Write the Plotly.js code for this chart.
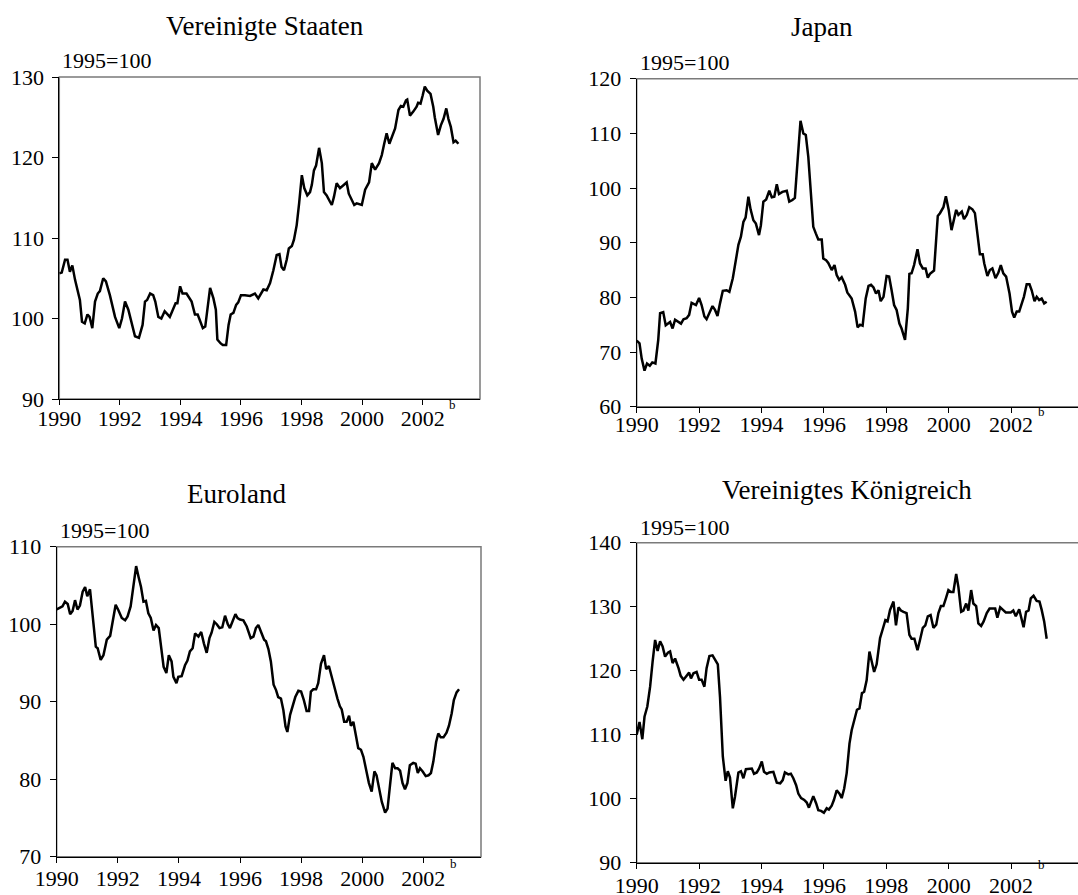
<!DOCTYPE html>
<html>
<head>
<meta charset="utf-8">
<script src="https://cdn.plot.ly/plotly-3.0.1.min.js"></script>
<style>
html,body{margin:0;padding:0;overflow:hidden;background:#fff;width:1078px;height:895px;}
#chart{width:1090px;height:895px;}
</style>
</head>
<body>
<div id="chart"></div>
<script>
// ---- Data (decimal years, index 1995=100) ----
const usX = [1990.0,1990.08,1990.19,1990.27,1990.35,1990.43,1990.52,1990.68,1990.75,1990.84,1990.93,1991.0,1991.09,1991.18,1991.27,1991.34,1991.45,1991.54,1991.67,1991.84,1991.98,1992.07,1992.17,1992.28,1992.5,1992.63,1992.75,1992.83,1992.9,1993.0,1993.1,1993.17,1993.27,1993.37,1993.48,1993.65,1993.84,1993.9,1993.99,1994.07,1994.2,1994.37,1994.48,1994.57,1994.74,1994.82,1994.98,1995.09,1995.17,1995.22,1995.33,1995.4,1995.51,1995.59,1995.66,1995.75,1995.84,1995.91,1996.0,1996.13,1996.3,1996.46,1996.57,1996.74,1996.85,1996.96,1997.07,1997.18,1997.27,1997.34,1997.42,1997.51,1997.58,1997.68,1997.75,1997.84,1997.92,1998.01,1998.09,1998.19,1998.28,1998.34,1998.41,1998.48,1998.58,1998.67,1998.74,1998.83,1998.94,1999.0,1999.07,1999.16,1999.27,1999.38,1999.49,1999.56,1999.65,1999.74,1999.82,1999.99,2000.1,2000.23,2000.32,2000.43,2000.56,2000.65,2000.73,2000.81,2000.9,2000.98,2001.09,2001.2,2001.28,2001.36,2001.45,2001.49,2001.58,2001.69,2001.8,2001.85,2001.93,2002.0,2002.07,2002.15,2002.26,2002.35,2002.4,2002.51,2002.6,2002.69,2002.78,2002.85,2002.93,2003.02,2003.09,2003.18];
const usY = [105.6,105.7,107.3,107.3,105.8,106.6,104.8,102.3,99.6,99.4,100.5,100.2,98.8,102.1,103.1,103.4,105.0,104.6,102.9,100.2,98.8,100.0,102.1,101.1,97.8,97.6,99.2,102.1,102.3,103.1,102.9,102.1,100.2,100.0,100.9,100.2,101.9,101.9,104.0,103.1,103.1,102.1,100.5,100.5,98.8,99.0,103.8,102.5,101.1,97.4,96.9,96.7,96.7,99.2,100.5,100.7,101.7,102.0,102.9,102.9,102.8,103.1,102.5,103.6,103.5,104.4,106.0,107.9,108.0,106.4,106.0,107.3,108.7,109.0,109.8,111.6,114.3,117.8,116.2,115.3,115.7,116.6,118.4,119.0,121.2,119.3,115.7,115.3,114.5,114.1,115.1,116.8,116.2,116.6,116.9,115.5,114.7,114.1,114.3,114.1,116.0,116.9,119.3,118.5,119.3,120.3,121.7,123.0,121.7,122.6,123.6,125.9,126.4,126.3,127.1,127.2,125.2,125.7,126.3,126.8,126.7,127.7,128.8,128.3,127.9,126.3,125.0,122.8,124.0,124.8,126.1,124.8,123.8,121.9,122.1,121.7];

const jpX = [1990.0,1990.09,1990.16,1990.25,1990.33,1990.42,1990.5,1990.6,1990.69,1990.75,1990.85,1990.93,1991.07,1991.15,1991.23,1991.34,1991.42,1991.5,1991.6,1991.68,1991.76,1991.9,1992.0,1992.08,1992.17,1992.24,1992.35,1992.43,1992.51,1992.59,1992.67,1992.76,1992.88,1992.97,1993.08,1993.18,1993.26,1993.34,1993.42,1993.49,1993.58,1993.65,1993.74,1993.82,1993.92,1993.98,1994.06,1994.15,1994.25,1994.33,1994.41,1994.49,1994.56,1994.67,1994.81,1994.89,1994.99,1995.07,1995.15,1995.25,1995.34,1995.42,1995.5,1995.58,1995.66,1995.74,1995.82,1995.93,1995.98,1996.07,1996.14,1996.25,1996.34,1996.41,1996.49,1996.57,1996.68,1996.75,1996.89,1997.0,1997.08,1997.16,1997.24,1997.34,1997.43,1997.51,1997.59,1997.67,1997.75,1997.82,1997.91,1998.01,1998.09,1998.17,1998.25,1998.33,1998.42,1998.49,1998.6,1998.69,1998.74,1998.81,1998.89,1999.0,1999.08,1999.17,1999.26,1999.33,1999.4,1999.53,1999.65,1999.72,1999.83,1999.91,2000.0,2000.09,2000.15,2000.24,2000.31,2000.42,2000.49,2000.58,2000.66,2000.76,2000.84,2000.93,2001.0,2001.09,2001.14,2001.24,2001.32,2001.4,2001.5,2001.59,2001.67,2001.75,2001.84,2001.95,2002.03,2002.1,2002.18,2002.26,2002.36,2002.41,2002.5,2002.59,2002.66,2002.75,2002.82,2002.9,2002.98,2003.06,2003.14];
const jpY = [72.1,71.6,68.8,66.6,67.9,67.5,68.1,67.9,72.2,77.1,77.3,74.9,75.5,74.3,75.9,75.5,75.2,76.0,76.2,76.8,79.0,78.6,79.9,78.6,76.5,76.0,77.4,78.4,77.7,76.6,78.9,81.2,81.3,81.0,83.5,86.8,89.6,91.1,93.8,94.6,98.4,96.1,94.1,93.5,91.4,93.2,97.5,97.9,99.5,98.3,98.4,100.7,98.9,99.3,99.5,97.5,97.8,98.2,104.5,112.3,110.0,109.7,105.7,98.7,92.9,91.7,90.6,90.6,87.1,86.8,86.3,85.0,85.9,84.1,83.2,83.7,82.3,80.9,79.8,77.4,74.5,75.0,74.8,79.8,82.1,82.3,81.8,80.7,81.3,79.3,80.1,83.9,83.8,81.3,78.6,77.7,75.2,74.3,72.2,78.0,84.3,84.4,85.9,88.8,86.2,85.3,85.3,83.6,84.3,84.9,94.9,95.4,96.5,98.5,96.0,92.3,93.8,96.0,95.1,95.7,94.3,95.1,96.5,96.1,95.4,91.7,87.9,87.9,86.2,83.9,85.0,85.3,83.5,84.5,85.9,84.4,83.8,80.7,77.4,76.3,77.4,77.4,79.2,80.1,82.4,82.4,81.3,79.3,80.1,79.5,79.8,78.9,79.2];

const euX = [1990.0,1990.09,1990.19,1990.27,1990.36,1990.44,1990.52,1990.6,1990.68,1990.76,1990.85,1990.93,1991.0,1991.09,1991.18,1991.28,1991.34,1991.44,1991.53,1991.64,1991.75,1991.85,1991.93,1992.02,1992.13,1992.24,1992.32,1992.42,1992.51,1992.6,1992.68,1992.76,1992.84,1992.92,1993.0,1993.08,1993.17,1993.25,1993.34,1993.42,1993.5,1993.59,1993.67,1993.76,1993.82,1993.92,1993.98,1994.09,1994.2,1994.28,1994.36,1994.45,1994.53,1994.64,1994.73,1994.82,1994.91,1995.0,1995.07,1995.16,1995.24,1995.33,1995.42,1995.51,1995.6,1995.67,1995.76,1995.85,1995.92,1996.0,1996.11,1996.22,1996.35,1996.44,1996.52,1996.6,1996.69,1996.79,1996.85,1996.93,1997.01,1997.1,1997.18,1997.25,1997.34,1997.42,1997.49,1997.55,1997.64,1997.72,1997.81,1997.91,1998.0,1998.09,1998.18,1998.26,1998.32,1998.4,1998.49,1998.56,1998.65,1998.75,1998.82,1998.91,1999.0,1999.09,1999.19,1999.27,1999.33,1999.41,1999.49,1999.57,1999.63,1999.71,1999.8,1999.87,1999.96,2000.04,2000.13,2000.22,2000.31,2000.4,2000.47,2000.56,2000.64,2000.75,2000.83,2000.91,2000.99,2001.08,2001.16,2001.24,2001.32,2001.4,2001.48,2001.56,2001.67,2001.75,2001.82,2001.89,2001.98,2002.08,2002.17,2002.25,2002.33,2002.42,2002.49,2002.57,2002.66,2002.76,2002.84,2002.93,2003.0,2003.09,2003.17];
const euY = [101.9,102.1,102.3,102.9,102.6,101.3,101.7,103.1,101.9,102.4,104.2,104.8,103.6,104.5,101.0,97.1,96.9,95.4,96.0,98.0,98.5,100.8,102.5,101.8,100.8,100.5,101.0,102.3,105.3,107.5,106.1,104.8,102.9,103.0,101.4,100.8,99.2,99.9,99.5,97.1,94.5,93.7,96.0,95.2,93.2,92.4,93.2,93.3,94.7,95.3,96.5,96.9,98.8,98.4,99.0,97.5,96.3,98.2,98.9,100.3,100.0,99.5,99.6,101.1,100.0,99.5,100.5,101.3,100.8,100.6,100.5,99.7,98.2,98.4,99.5,99.9,99.0,98.0,97.8,96.8,95.2,92.2,91.5,90.6,90.4,88.9,86.8,86.1,88.3,89.4,90.6,91.4,91.3,90.2,88.8,88.8,91.3,91.6,91.6,92.4,94.9,96.0,94.2,94.6,93.4,91.9,90.4,89.4,89.0,87.4,87.4,88.2,86.9,87.4,85.5,84.0,83.8,82.9,81.2,79.5,78.4,81.0,80.5,78.6,77.1,75.7,76.2,79.2,82.1,81.4,81.4,81.1,79.5,78.7,79.5,81.8,82.1,82.0,80.8,81.4,81.0,80.4,80.5,80.8,82.3,84.8,85.9,85.4,85.4,86.0,86.9,88.5,90.2,91.2,91.6];

const ukX = [1990.0,1990.09,1990.18,1990.25,1990.34,1990.43,1990.51,1990.59,1990.67,1990.75,1990.83,1990.91,1991.0,1991.07,1991.15,1991.23,1991.34,1991.41,1991.5,1991.58,1991.68,1991.74,1991.82,1991.92,1992.0,1992.08,1992.17,1992.24,1992.33,1992.43,1992.51,1992.6,1992.67,1992.76,1992.85,1992.92,1992.99,1993.08,1993.15,1993.26,1993.34,1993.42,1993.5,1993.6,1993.69,1993.76,1993.85,1993.92,1994.01,1994.08,1994.17,1994.25,1994.38,1994.49,1994.6,1994.68,1994.75,1994.86,1994.94,1995.02,1995.11,1995.18,1995.27,1995.37,1995.45,1995.52,1995.59,1995.66,1995.75,1995.82,1995.91,1996.0,1996.09,1996.16,1996.25,1996.32,1996.41,1996.5,1996.57,1996.65,1996.73,1996.82,1996.89,1996.98,1997.06,1997.14,1997.22,1997.29,1997.37,1997.46,1997.53,1997.61,1997.69,1997.8,1997.88,1997.97,1998.04,1998.12,1998.23,1998.31,1998.39,1998.47,1998.55,1998.65,1998.74,1998.81,1998.9,1999.0,1999.08,1999.17,1999.25,1999.33,1999.42,1999.51,1999.6,1999.67,1999.75,1999.83,1999.91,1999.99,2000.07,2000.15,2000.24,2000.31,2000.4,2000.47,2000.56,2000.63,2000.72,2000.79,2000.88,2000.95,2001.04,2001.12,2001.22,2001.31,2001.4,2001.49,2001.56,2001.65,2001.74,2001.83,2001.91,2001.99,2002.07,2002.15,2002.26,2002.32,2002.4,2002.48,2002.56,2002.63,2002.72,2002.82,2002.91,2002.98,2003.06,2003.14];
const ukY = [110.0,112.0,109.3,112.8,114.4,117.5,121.4,124.8,123.1,124.6,123.8,122.2,122.8,123.0,121.2,121.9,120.4,119.2,118.6,119.1,119.7,118.8,119.6,119.8,118.6,118.6,117.5,120.4,122.3,122.4,121.8,121.0,115.9,106.6,102.8,104.3,103.3,98.5,100.3,104.1,104.3,103.2,104.6,104.6,104.7,103.9,104.1,104.7,105.8,104.2,103.9,104.1,104.2,102.5,102.4,102.9,104.1,103.8,103.9,103.2,102.1,100.8,100.1,99.8,99.4,98.6,99.5,100.4,99.3,98.2,98.1,97.8,98.5,98.3,98.9,99.8,101.3,100.8,100.1,101.6,104.0,108.6,110.7,112.4,113.9,114.1,116.5,116.7,118.5,123.0,121.4,119.8,121.0,125.1,126.4,127.9,127.7,129.5,130.8,127.1,129.9,129.4,129.2,129.0,125.6,125.0,125.0,123.2,124.8,126.7,127.1,128.5,128.7,126.7,127.2,129.0,130.1,130.1,131.3,132.6,132.3,132.3,135.1,133.1,129.2,129.4,130.5,129.4,132.6,130.5,130.1,127.4,127.0,127.7,129.0,129.7,129.7,129.7,128.3,129.9,129.5,129.1,129.1,129.1,129.4,128.5,129.6,128.4,126.8,129.2,129.4,131.3,131.7,130.9,130.8,129.5,127.7,125.0];

const panelTitles = ["Vereinigte Staaten", "Japan", "Euroland", "Vereinigtes Königreich"];
const baseLabel = "1995=100";
const xTickVals = [1990, 1992, 1994, 1996, 1998, 2000, 2002];
const xTickText = ["1990", "1992", "1994", "1996", "1998", "2000", "2002"];
const footnoteMark = "b";

// ---- Layout geometry (pixels) ----
const W = 1090, H = 895;
const FONT = '"Liberation Serif", "Times New Roman", Times, serif';
const px2x = p => p / W;
const px2y = p => 1 - p / H;

const panels = [
  {xs: usX, ys: usY, left: 59.3, right: 480, top: 77, bottom: 399, xEnd: 1990 + (480 - 59.3) / 30.28, yr: [90, 130], titleX: 265, titleY: 26, labX: 60, labY: 61, xStand: -5, bY: -6},
  {xs: jpX, ys: jpY, left: 636.7, right: 1085, top: 78.7, bottom: 406.7, xEnd: 1990 + (1085 - 636.7) / 31.2, yr: [60, 120], titleX: 821.7, titleY: 27, labX: 637.7, labY: 62, xStand: -7, bY: -5},
  {xs: euX, ys: euY, left: 56.7, right: 481, top: 546.7, bottom: 856.7, xEnd: 1990 + (481 - 56.7) / 30.55, yr: [70, 110], titleX: 236.7, titleY: 494, labX: 58, labY: 530.5, xStand: -3, bY: -7},
  {xs: ukX, ys: ukY, left: 636.7, right: 1085, top: 542.7, bottom: 862.7, xEnd: 1990 + (1085 - 636.7) / 31.2, yr: [90, 140], titleX: 846.7, titleY: 490, labX: 638, labY: 527, xStand: -2, bY: -2}
];

const data = [];
const layout = {
  width: W, height: H,
  margin: {l: 0, r: 0, t: 0, b: 0},
  paper_bgcolor: '#fff', plot_bgcolor: '#fff',
  showlegend: false,
  font: {family: FONT, size: 22, color: '#000'},
  annotations: [], shapes: []
};

panels.forEach((p, i) => {
  const n = i === 0 ? '' : String(i + 1);
  data.push({
    x: p.xs, y: p.ys, type: 'scatter', mode: 'lines',
    xaxis: 'x' + n, yaxis: 'y' + n,
    line: {color: '#000', width: 2.5},
    hoverinfo: 'skip'
  });
  layout['xaxis' + n] = {
    domain: [px2x(p.left), px2x(p.right)],
    anchor: 'y' + n,
    range: [1990, p.xEnd],
    tickvals: xTickVals, ticktext: xTickText,
    ticks: 'outside', ticklen: 5, tickwidth: 1, tickcolor: '#000',
    ticklabelstandoff: p.xStand,
    showline: true, linecolor: '#000', linewidth: 1,
    showgrid: false, zeroline: false,
    tickfont: {family: FONT, size: 22, color: '#000'}
  };
  layout['yaxis' + n] = {
    domain: [px2y(p.bottom), px2y(p.top)],
    anchor: 'x' + n,
    range: p.yr, dtick: 10, tick0: 0,
    ticks: 'outside', ticklen: 6, tickwidth: 1, tickcolor: '#000',
    ticklabelstandoff: 4,
    showline: true, linecolor: '#000', linewidth: 1,
    showgrid: false, zeroline: false,
    tickfont: {family: FONT, size: 22, color: '#000'}
  };
  layout.shapes.push({
    type: 'rect', xref: 'x' + n + ' domain', yref: 'y' + n + ' domain',
    x0: 0, x1: 1, y0: 0, y1: 1, layer: 'below',
    line: {color: '#7a7a7a', width: 1.5}
  });
  layout.annotations.push({
    text: panelTitles[i], xref: 'paper', yref: 'paper',
    x: px2x(p.titleX), y: px2y(p.titleY), xanchor: 'center', yanchor: 'middle',
    showarrow: false, font: {family: FONT, size: 27, color: '#000'}
  });
  layout.annotations.push({
    text: baseLabel, xref: 'paper', yref: 'paper',
    x: px2x(p.labX), y: px2y(p.labY), xanchor: 'left', yanchor: 'middle',
    showarrow: false, font: {family: FONT, size: 22, color: '#000'}
  });
  layout.annotations.push({
    text: footnoteMark, xref: 'x' + n, yref: 'y' + n + ' domain',
    x: 2002, y: 0, xanchor: 'center', yanchor: 'middle',
    xshift: 30, yshift: p.bY,
    showarrow: false, font: {family: FONT, size: 13, color: '#000'}
  });
});

Plotly.newPlot('chart', data, layout, {staticPlot: true, displayModeBar: false});
</script>
</body>
</html>
